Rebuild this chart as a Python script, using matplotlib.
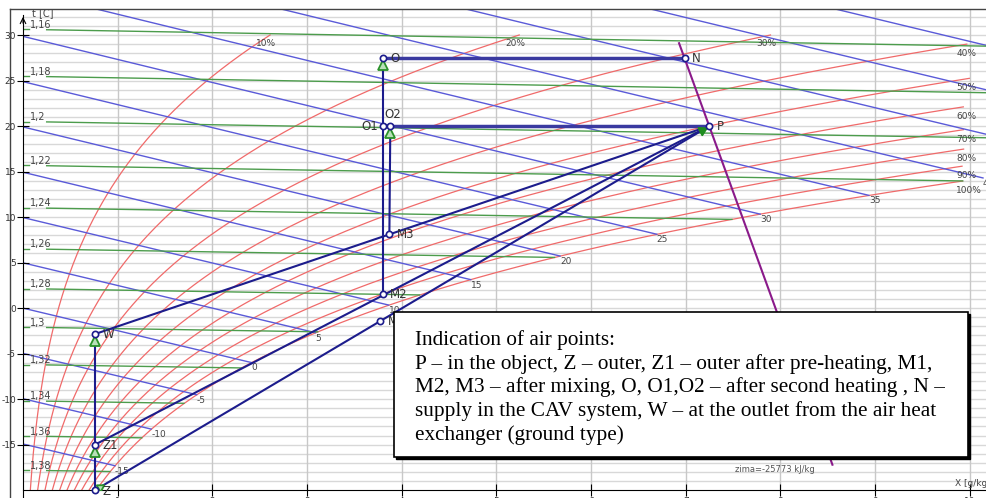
# Mollier (i-x) chart with the air treatment process points
import numpy as np
import matplotlib.pyplot as plt
from matplotlib.patches import Rectangle
from matplotlib.lines import Line2D

plt.rcParams["axes.unicode_minus"] = False

# ---- data ----
# enthalpy lines [kJ/kg]
enthalpy_levels = [-15, -10, -5, 0, 5, 10, 15, 20, 25, 30, 35, 40, 45, 50, 55]
# relative humidity curves [%]
rh_levels = [10, 20, 30, 40, 50, 60, 70, 80, 90, 100]
# density lines [kg/m3]
density_levels = [1.16, 1.18, 1.20, 1.22, 1.24, 1.26, 1.28, 1.30, 1.32, 1.34, 1.36, 1.38]

# air points: x [g/kg], t [C]
point_names = ["Z", "Z1", "W", "M1", "M2", "M3", "O1", "O2", "O", "N", "P"]
point_x = [0.76, 0.76, 0.76, 3.77, 3.80, 3.87, 3.80, 3.88, 3.80, 6.99, 7.25]
point_t = [-20.0, -15.0, -2.85, -1.42, 1.55, 8.14, 20.0, 20.0, 27.5, 27.5, 20.0]

# process connections
thin_lines = [("Z", "W"), ("W", "P"), ("Z1", "P"), ("Z", "P"), ("M2", "O"), ("M3", "O2")]
thick_lines = [("O", "N"), ("O1", "P")]

# room process line (purple)
room_line_x = [6.93, 8.55]
room_line_t = [29.1, -17.2]

tick_t = [-15, -10, -5, 0, 5, 10, 15, 20, 25, 30]
tick_x = [1, 2, 3, 4, 5, 6, 7, 8, 9, 10]

P_ATM = 101.325  # kPa
P_DENS = 101.15  # kPa, pressure used for the density lines


def x_sat(t, phi=1.0):
    ps = 0.6112 * np.exp(17.62 * t / (243.12 + t))
    pv = phi * ps
    return 622.0 * pv / (P_ATM - pv)


# ---- figure layout (pixels of the original picture) ----
W, H = 986, 498
PX_X = 94.67   # px per g/kg
PX_T = 9.104   # px per C
fig = plt.figure(figsize=(W / 100, H / 100), dpi=100)
ax = fig.add_axes([23 / W, 7.8 / H, 963 / W, 481.2 / H])
xmax = 963 / PX_X
tmax = -20 + 481.2 / PX_T
ax.set_xlim(0, xmax)
ax.set_ylim(-20, tmax)

# grid
for t in range(-19, 33):
    ax.axhline(t, color="#d8d8d8", lw=1.0, zorder=0)
for xv in tick_x:
    ax.axvline(xv, color="#c8c8c8", lw=1.0, zorder=0)

# relative humidity curves
for rh in rh_levels:
    tt = np.linspace(-20, 30, 400)
    xx = x_sat(tt, rh / 100)
    m = xx <= 10
    ax.plot(xx[m], tt[m], color="#f06a6a", lw=0.9, zorder=1)
    if xx[-1] > 10:
        t_end = tt[m][-1]
        ax.text(9.86, t_end - 1.03, f"{rh}%", fontsize=6.5, color="#444",
                va="center", ha="left", zorder=3)
    else:
        ax.text(xx[-1] - 0.15, 29.1, f"{rh}%", fontsize=6.5, color="#444",
                va="center", ha="left", zorder=3)

# enthalpy lines
for h in enthalpy_levels:
    xx = np.linspace(0, 10.6, 3000)
    tt = (h - 2.501 * xx) / (1.005 + 0.00186 * xx)
    m = xx <= x_sat(tt)
    ax.plot(xx[m], tt[m], color="#5a5ad8", lw=1.0, zorder=1)
    xe, te = xx[m][-1], tt[m][-1]
    if xe < xmax:
        ax.text(xe, te - 0.1, str(h), fontsize=6.5, color="#444",
                ha="left", va="top", zorder=3)

# density lines
for rho in density_levels:
    xx = np.linspace(0.25, 10.6, 2000)
    T = P_DENS * 1000 * (1 + xx / 1000) / (287.05 * rho * (1 + 1.6078 * xx / 1000))
    tt = T - 273.15
    m = xx <= x_sat(tt)
    ax.plot(xx[m], tt[m], color="#4c9c4c", lw=1.0, zorder=1)
    t0 = P_DENS * 1000 / (287.05 * rho) - 273.15
    ax.plot([0, 0.06], [t0, t0], color="#4c9c4c", lw=1.0, zorder=1)
    lab = f"{rho:.2f}".rstrip("0").replace(".", ",")
    ax.text(0.07, t0 + 0.15, lab, fontsize=7, color="#444", va="baseline", ha="left", zorder=3)

# room process line
ax.plot(room_line_x, room_line_t, color="#8a1a8a", lw=1.5, zorder=4)

# process lines between points
pts = {n: (xv, tv) for n, xv, tv in zip(point_names, point_x, point_t)}
for a, b in thin_lines:
    ax.plot([pts[a][0], pts[b][0]], [pts[a][1], pts[b][1]], color="#1c1c8c", lw=1.5, zorder=5)
for a, b in thick_lines:
    ax.plot([pts[a][0], pts[b][0]], [pts[a][1], pts[b][1]], color="#3a3aa0", lw=2.5, zorder=5)


def arrow_angle(a, b):
    dx = (pts[b][0] - pts[a][0]) * PX_X
    dy = (pts[b][1] - pts[a][1]) * PX_T
    return np.degrees(np.arctan2(dy, dx))


# green direction arrows
for n in ["Z1", "W", "O", "O2"]:
    ax.plot(pts[n][0], pts[n][1] - 0.75, marker="^", ms=6.5, mfc="#b8e0b8",
            mec="#2a922a", mew=1.3, zorder=6)
ang = arrow_angle("Z", "P")
ax.plot(pts["Z"][0] + 6 * np.cos(np.radians(ang)) / PX_X,
        pts["Z"][1] + 6 * np.sin(np.radians(ang)) / PX_T,
        marker=(3, 0, ang - 90), ms=6.5, mfc="#b8e0b8", mec="#2a922a", mew=1.3, zorder=6)
ang = arrow_angle("Z1", "P")
ax.plot(pts["P"][0] - 8 * np.cos(np.radians(ang)) / PX_X,
        pts["P"][1] - 8 * np.sin(np.radians(ang)) / PX_T,
        marker=(3, 0, ang - 90), ms=7.5, mfc="#1e8c1e", mec="#1e8c1e", zorder=6)

# point markers and labels
ax.plot(point_x, point_t, "o", ms=4.5, mfc="white", mec="#1c1c8c", mew=1.2, ls="none",
        zorder=7, clip_on=False)
for n, xv, tv in zip(point_names, point_x, point_t):
    if n == "O1":
        ax.text(xv - 0.05, tv, n, fontsize=8.5, color="#333", ha="right", va="center", zorder=8)
    elif n == "O2":
        ax.text(xv + 0.03, tv + 1.3, n, fontsize=8.5, color="#333", ha="center", va="center", zorder=8)
    else:
        ax.text(xv + 0.08, tv - 0.1, n, fontsize=8.5, color="#333", ha="left", va="center", zorder=8)

# axes
ax.set_xticks(tick_x)
ax.set_yticks(tick_t)
ax.tick_params(axis="both", direction="inout", length=8, width=0.8, labelsize=6.5,
               pad=1, labelcolor="#333")
for s in ["top", "right"]:
    ax.spines[s].set_visible(False)
ax.spines["left"].set_bounds(-21, 32.2)
ax.annotate("", xy=(0, 32.3), xytext=(0, 31.0),
            arrowprops=dict(arrowstyle="->", color="black", lw=0.8),
            annotation_clip=False)
fig.text(32 / W, 1 - 13 / H, "t [C]", fontsize=7, color="#444", va="center")
fig.text(955 / W, 1 - 483 / H, "X [g/kg]", fontsize=6.5, color="#444", va="center")
fig.text(775 / W, 1 - 469 / H, "zima=-25773 kJ/kg", fontsize=6, color="#555",
         va="center", ha="center")

# outer frame
fig.add_artist(Line2D([9.5 / W, 9.5 / W], [0, 1 - 9 / H], color="#444", lw=1))
fig.add_artist(Line2D([9.5 / W, 1], [1 - 9 / H, 1 - 9 / H], color="#444", lw=1))

# description box
bx0, by0, bx1, by1 = 394, 312, 968, 457
fig.add_artist(Rectangle(((bx0 + 2) / W, 1 - (by1 + 2) / H), (bx1 - bx0) / W, (by1 - by0) / H,
                         transform=fig.transFigure, facecolor="black", edgecolor="black",
                         zorder=10))
fig.add_artist(Rectangle((bx0 / W, 1 - by1 / H), (bx1 - bx0) / W, (by1 - by0) / H,
                         transform=fig.transFigure, facecolor="white", edgecolor="black",
                         lw=1.2, zorder=11))
box_text = ("Indication of air points:\n"
            "P \u2013 in the object, Z \u2013 outer, Z1 \u2013 outer after pre-heating, M1,\n"
            "M2, M3 \u2013 after mixing, O, O1,O2 \u2013 after second heating , N \u2013\n"
            "supply in the CAV system, W \u2013 at the outlet from the air heat\n"
            "exchanger (ground type)")
fig.text(415 / W, 1 - 330 / H, box_text, fontsize=15.3, family="Liberation Serif",
         va="top", ha="left", linespacing=1.26, zorder=12)

fig.savefig("out.png", dpi=100)
